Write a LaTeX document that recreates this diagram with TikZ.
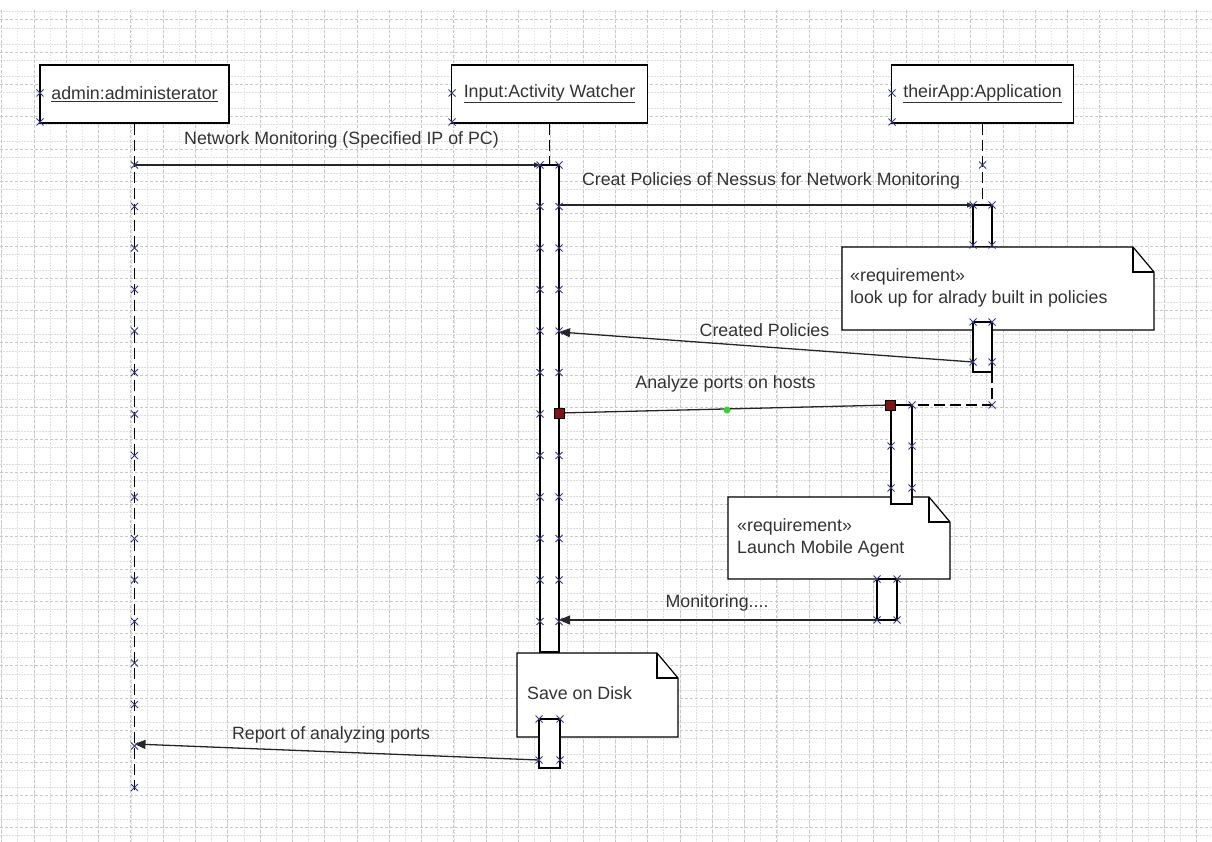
\documentclass[tikz,border=0pt]{standalone}
\usepackage{fontspec}
\setmainfont{Liberation Sans}
\usetikzlibrary{arrows.meta,calc}

\definecolor{cpcol}{HTML}{34348A}
\definecolor{gridmin}{HTML}{DEDEDE}
\definecolor{gridmaj}{HTML}{C8C8C8}
\definecolor{sqred}{HTML}{7E1414}
\definecolor{dotgreen}{HTML}{2FD62F}
\definecolor{txt}{HTML}{333333}

\tikzset{
  gmin/.style={gridmin, line width=0.6pt, dash pattern=on 1.5pt off 1.5pt},
  gmaj/.style={gridmaj, line width=0.7pt, dash pattern=on 3pt off 2pt},
  head/.style={draw=black, line width=1.3pt, fill=white, minimum height=58pt,
    inner sep=0pt, text=txt},
  life/.style={black, line width=1.1pt, dash pattern=on 11pt off 5pt},
  act/.style={draw=black, line width=1.2pt, fill=white, inner sep=0pt, outer sep=0pt},
  msg/.style={black!85, line width=1.3pt},
  smalltip/.style={-{Triangle[length=6pt,width=5pt]}},
  bigtip/.style={-{Triangle[length=11pt,width=9pt]}},
  lbl/.style={text=txt, inner sep=0pt},
  notetext/.style={text=txt, align=left, inner sep=0pt, anchor=west},
  noteline/.style={draw=black, line width=1.2pt, fill=white, line join=miter},
  cpt/.pic={\draw[cpcol, line width=0.9pt] (-3.5,-3.5) -- (3.5,3.5) (-3.5,3.5) -- (3.5,-3.5);},
  endsq/.style={draw=black, line width=0.6pt, fill=sqred, minimum size=10pt,
    inner sep=0pt, outer sep=0pt},
}

% folded-corner note outline between two corner coordinates
\newcommand\foldnote[2]{%
  \draw[noteline] (#1) -- ($(#1 -| #2)+(-21,0)$) -- ($(#1 -| #2)+(0,25)$)
    -- (#2) -- (#1 |- #2) -- cycle;
  \draw[noteline, fill=none] ($(#1 -| #2)+(-21,0)$) -- ($(#1 -| #2)+(-21,25)$)
    -- ($(#1 -| #2)+(0,25)$);}

\begin{document}
\begin{tikzpicture}[x=1pt, y=-1pt, font=\fontsize{17.8}{22}\selectfont]
\useasboundingbox (0,0) rectangle (1212,842);
\fill[white] (0,0) rectangle (1212,842);

% background grid
\foreach \i in {0,...,75} {\draw[gmin] ({1.6+16.15*\i},10) -- ++(0,832);}
\foreach \i in {0,...,51} {\draw[gmin] (0,{11.7+16.15*\i}) -- ++(1212,0);}
\foreach \i in {0,...,37} {\draw[gmaj] ({1.6+32.3*\i},10) -- ++(0,832);}
\foreach \i in {0,...,25} {\draw[gmaj] (0,{19.8+32.3*\i}) -- ++(1212,0);}

% lifeline heads
\node[head, minimum width=189pt] (admin) at (134.5,94) {\underline{admin:administerator}};
\node[head, minimum width=196pt] (input) at (549.5,94) {\underline{Input:Activity Watcher}};
\node[head, minimum width=182pt] (app) at (982.5,94) {\underline{theirApp:Application}};

% activation bars
\node[act, minimum width=19pt, minimum height=487pt] (actA) at (549.5,408.5) {};
\node[act, minimum width=19pt, minimum height=42pt] (actB1) at (982.5,226) {};

% lifelines
\coordinate (adminEnd) at (134.5,790);
\draw[life] (admin.south) -- (adminEnd);
\draw[life] (input.south) -- (actA.north);
\draw[life] (app.south) -- (actB1.north);

% note on the application lifeline
\coordinate (n1a) at (842,247);
\coordinate (n1b) at (1154,330);
\foldnote{n1a}{n1b}
\node[notetext] (note1) at (850,288) {«requirement»\\look up for alrady built in policies};
\node[act, minimum width=19pt, minimum height=50pt] (actB2) at (982.5,347) {};

% messages
\coordinate (m1s) at (134.5,165);
\draw[msg, smalltip] (m1s) -- (actA.north west);
\node[lbl] (l1) at (341.5,140) {Network Monitoring (Specified IP of PC)};

\coordinate (m2s) at (559,205);
\draw[msg, smalltip] (m2s) -- (actB1.north west);
\node[lbl] (l2) at (771,181) {Creat Policies of Nessus for Network Monitoring};

\coordinate (m3s) at (973,362);
\coordinate (m3e) at (559,332);
\draw[msg, bigtip] (m3s) -- (m3e);
\node[lbl] (l3) at (764.5,330) {Created Policies};

% call to the agent and the return path of the application lifeline
\coordinate (ret) at (992,405);
\coordinate (sq1) at (559,413);
\coordinate (sq2) at (890,405);
\draw[life] (actB2.south east) -- (ret) -- (sq2);
\draw[msg] (sq1) -- (sq2);
\node[lbl] (l4) at (725.5,384) {Analyze ports on hosts};

% agent activation and its note
\coordinate (n2a) at (728,497);
\coordinate (n2b) at (950,579);
\foldnote{n2a}{n2b}
\node[notetext] (note2) at (737,537.5) {«requirement»\\Launch Mobile Agent};
\node[act, minimum width=21pt, minimum height=99pt] (actC1) at (901.5,454.5) {};
\node[act, minimum width=20pt, minimum height=41pt] (actC2) at (887,599.5) {};

\coordinate (m5e) at (559,620);
\draw[msg, bigtip] (actC2.south west) -- (m5e);
\node[lbl] (l5) at (717,603) {Monitoring....};

% save note and final report
\coordinate (n3a) at (517,653);
\coordinate (n3b) at (678,737);
\foldnote{n3a}{n3b}
\node[notetext] (note3) at (527,693) {Save on Disk};
\node[act, minimum width=21pt, minimum height=49pt] (actA2) at (549.5,743.5) {};

\coordinate (m6s) at (539,760);
\coordinate (m6e) at (134.5,744);
\draw[msg, bigtip] (m6s) -- (m6e);
\node[lbl] (l6) at (331,735) {Report of analyzing ports};

% connection points
\foreach \p in {(40,93),(40,122),(452,93),(452,122),(892,93),(892,122)} {\pic at \p {cpt};}
\foreach \k in {0,...,15} {\pic at (134.5,{165+41.5*\k}) {cpt};}
\foreach \k in {0,...,11} {\pic at (540,{165+41.5*\k}) {cpt};}
\foreach \k in {0,...,5,7,8,9,10,11} {\pic at (559,{165+41.5*\k}) {cpt};}
\foreach \p in {(982.5,165),(973,205),(992,205),(973,245),(992,245),
  (973,322),(992,322),(973,362),(992,362),(992,405),(912,405),
  (891,446),(912,446),(891,488),(912,488),
  (877,579),(897,579),(877,620),(897,620),
  (539,719),(560,719),(539,760),(560,760)} {\pic at \p {cpt};}

% selected message end points
\node[endsq] (sqA) at (sq1) {};
\node[endsq] (sqB) at (sq2) {};
\fill[dotgreen] (727,410) circle (3.5);
\end{tikzpicture}
\end{document}
